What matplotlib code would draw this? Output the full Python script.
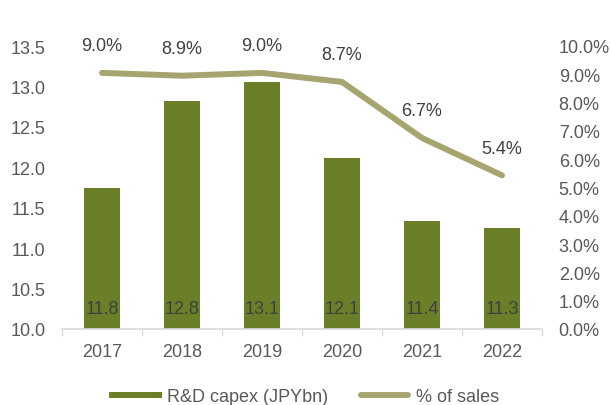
import matplotlib
matplotlib.use("Agg")
import matplotlib.pyplot as plt
from matplotlib.ticker import FuncFormatter
from matplotlib.lines import Line2D
import numpy as np

plt.rcParams['font.family'] = ['Liberation Sans', 'DejaVu Sans']

years = ["2017", "2018", "2019", "2020", "2021", "2022"]
capex = [11.75, 12.82, 13.06, 12.12, 11.34, 11.25]
capex_labels = ["11.8", "12.8", "13.1", "12.1", "11.4", "11.3"]
pct_sales = [9.05, 8.95, 9.05, 8.73, 6.75, 5.43]
pct_labels = ["9.0%", "8.9%", "9.0%", "8.7%", "6.7%", "5.4%"]
series_names = ["R&D capex (JPYbn)", "% of sales"]

bar_color = "#6B7F29"
line_color = "#A6A46F"
text_color = "#595959"
FS = 13

fig = plt.figure(figsize=(6.11, 4.06), dpi=100)
ax = fig.add_axes([62/611, 1-330/406, 480/611, 283/406])
x = np.arange(len(years))
ax.bar(x, [c - 10 for c in capex], bottom=10, width=0.45, color=bar_color, zorder=2)
ax.set_ylim(10, 13.5)
ax.set_xlim(-0.5, len(years) - 0.5)
ax.set_yticks(np.arange(10, 13.51, 0.5))
ax.yaxis.set_major_formatter(FuncFormatter(lambda v, p: f"{v:.1f}"))
for xi, lab in zip(x, capex_labels):
    ax.text(xi, 10.25, lab, ha="center", va="center", fontsize=FS, color="#404040", zorder=3)

ax.set_xticks(x)
ax.set_xticklabels(years)
ax.set_xticks(np.arange(-0.5, len(years), 1), minor=True)
ax.tick_params(axis="x", which="major", length=0, pad=10, labelsize=FS, colors=text_color)
ax.tick_params(axis="x", which="minor", length=5, color="#D9D9D9", width=1)
ax.tick_params(axis="y", length=0, labelsize=FS, colors=text_color, pad=12)
for s in ["top", "right", "left"]:
    ax.spines[s].set_visible(False)
ax.spines["bottom"].set_color("#D9D9D9")
ax.spines["bottom"].set_linewidth(1.2)

ax2 = ax.twinx()
ax2.plot(x, pct_sales, color=line_color, linewidth=4.3, solid_capstyle="round", zorder=3)
ax2.set_ylim(0, 10)
ax2.set_yticks(np.arange(0, 10.01, 1))
ax2.yaxis.set_major_formatter(FuncFormatter(lambda v, p: f"{v:.1f}%"))
ax2.tick_params(axis="y", length=0, labelsize=FS, colors=text_color, pad=12)
for s in ["top", "right", "left", "bottom"]:
    ax2.spines[s].set_visible(False)
for xi, v, lab in zip(x, pct_sales, pct_labels):
    ax2.annotate(lab, (xi, v), xytext=(0, 19.5), textcoords="offset points",
                 ha="center", va="center", fontsize=FS, color="#404040")

handles = [Line2D([0], [0], color=bar_color, linewidth=4.3),
           Line2D([0], [0], color=line_color, linewidth=4.3, solid_capstyle="round")]
fig.legend(handles, series_names, loc="center", bbox_to_anchor=(0.5, 1-398/406),
           ncol=2, frameon=False, fontsize=FS, labelcolor=text_color,
           handlelength=2.6, columnspacing=1.8, handletextpad=0.45)

fig.savefig("out.png", dpi=100)
